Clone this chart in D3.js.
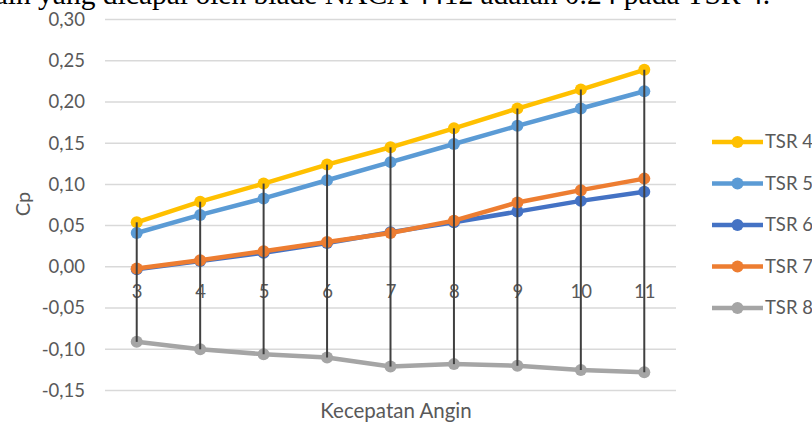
<!DOCTYPE html>
<html>
<head>
<meta charset="utf-8">
<script src="https://cdn.jsdelivr.net/npm/d3@7"></script>
<style>
  html, body { margin: 0; padding: 0; background: #fff; }
  svg { display: block; }
</style>
</head>
<body>
<svg id="chart" width="812" height="424"></svg>
<script>
// Wind speed categories (m/s)
const windSpeeds = [3, 4, 5, 6, 7, 8, 9, 10, 11];

// Power coefficient Cp per tip speed ratio
const tsr4 = [0.054, 0.079, 0.101, 0.124, 0.145, 0.168, 0.192, 0.215, 0.239];
const tsr5 = [0.041, 0.063, 0.083, 0.105, 0.127, 0.149, 0.171, 0.192, 0.213];
const tsr6 = [-0.003, 0.007, 0.017, 0.029, 0.042, 0.054, 0.067, 0.080, 0.091];
const tsr7 = [-0.002, 0.008, 0.019, 0.030, 0.041, 0.056, 0.078, 0.093, 0.107];
const tsr8 = [-0.091, -0.100, -0.106, -0.110, -0.121, -0.118, -0.120, -0.125, -0.128];

const seriesNames = ["TSR 4", "TSR 5", "TSR 6", "TSR 7", "TSR 8"];
const seriesColors = ["#FFC000", "#5B9BD5", "#4472C4", "#ED7D31", "#A5A5A5"];

const yTicks = [-0.15, -0.10, -0.05, 0.00, 0.05, 0.10, 0.15, 0.20, 0.25, 0.30];

const captionText = "ain yang dicapai oleh blade NACA 4412 adalah 0.24 pada TSR 4.";

const series = [tsr4, tsr5, tsr6, tsr7, tsr8].map((vals, i) => ({
  name: seriesNames[i],
  color: seriesColors[i],
  values: vals.map((v, j) => ({ x: windSpeeds[j], y: v }))
}));

const svg = d3.select("#chart");
const labelFont = "Lato, 'Open Sans', sans-serif";
const textGrey = "#595959";

const plot = { left: 105, right: 676, top: 19.5, bottom: 390.5 };

const x = d3.scalePoint()
  .domain(windSpeeds)
  .range([plot.left, plot.right])
  .padding(0.5);

const y = d3.scaleLinear()
  .domain([-0.15, 0.30])
  .range([plot.bottom, plot.top]);

// Paragraph line running above the chart
svg.append("text")
  .attr("x", 770)
  .attr("y", 4)
  .attr("text-anchor", "end")
  .attr("font-family", "'Liberation Serif', 'Times New Roman', serif")
  .attr("font-size", 29.5)
  .attr("fill", "#000")
  .text(captionText);

// Horizontal gridlines
svg.append("g")
  .selectAll("line")
  .data(yTicks)
  .join("line")
  .attr("x1", plot.left)
  .attr("x2", plot.right)
  .attr("y1", d => y(d))
  .attr("y2", d => y(d))
  .attr("stroke", "#d9d9d9")
  .attr("stroke-width", 1.5);

// Y axis tick labels (comma decimal)
const fmt = d => d3.format(".2f")(d).replace(".", ",").replace("−", "-");
const yAxis = d3.axisLeft(y).tickValues(yTicks).tickFormat(fmt).tickSize(0).tickPadding(0);
const yAxisG = svg.append("g")
  .attr("transform", `translate(${plot.left - 20},0)`)
  .call(yAxis);
yAxisG.select(".domain").remove();
yAxisG.selectAll("text")
  .attr("font-family", labelFont)
  .attr("font-size", 18.5)
  .attr("fill", textGrey);

// Category labels sit just under the zero line
const xAxis = d3.axisBottom(x).tickSize(0).tickPadding(0);
const xAxisG = svg.append("g")
  .attr("transform", `translate(0,${y(0) + 18})`)
  .call(xAxis);
xAxisG.select(".domain").remove();
xAxisG.selectAll("text")
  .attr("font-family", labelFont)
  .attr("font-size", 18.5)
  .attr("fill", textGrey);

// Series lines and markers
const line = d3.line().x(d => x(d.x)).y(d => y(d.y));
const sg = svg.append("g")
  .selectAll("g")
  .data(series)
  .join("g");
sg.append("path")
  .attr("d", d => line(d.values))
  .attr("fill", "none")
  .attr("stroke", d => d.color)
  .attr("stroke-width", 4.5)
  .attr("stroke-linejoin", "round");
sg.selectAll("circle")
  .data(d => d.values.map(v => ({ ...v, color: d.color })))
  .join("circle")
  .attr("cx", d => x(d.x))
  .attr("cy", d => y(d.y))
  .attr("r", 6)
  .attr("fill", d => d.color);

// High-low lines joining the highest and lowest value at each speed
svg.append("g")
  .selectAll("line")
  .data(windSpeeds.map((w, j) => {
    const vals = series.map(s => s.values[j].y);
    return { x: w, hi: d3.max(vals), lo: d3.min(vals) };
  }))
  .join("line")
  .attr("x1", d => x(d.x))
  .attr("x2", d => x(d.x))
  .attr("y1", d => y(d.hi))
  .attr("y2", d => y(d.lo))
  .attr("stroke", "#404040")
  .attr("stroke-width", 2);

// Axis titles
svg.append("text")
  .attr("x", 396)
  .attr("y", 418)
  .attr("text-anchor", "middle")
  .attr("font-family", labelFont)
  .attr("font-size", 20.5)
  .attr("fill", textGrey)
  .text("Kecepatan Angin");

svg.append("text")
  .attr("transform", "translate(30,204) rotate(-90)")
  .attr("text-anchor", "middle")
  .attr("font-family", labelFont)
  .attr("font-size", 20)
  .attr("fill", textGrey)
  .text("Cp");

// Legend
const legend = svg.append("g")
  .selectAll("g")
  .data(series)
  .join("g")
  .attr("transform", (d, i) => `translate(712,${142 + i * 41.5})`);
legend.append("line")
  .attr("x1", 0).attr("x2", 51)
  .attr("stroke", d => d.color)
  .attr("stroke-width", 4.5);
legend.append("circle")
  .attr("cx", 25.5)
  .attr("r", 6)
  .attr("fill", d => d.color);
legend.append("text")
  .attr("x", 53)
  .attr("dy", "0.35em")
  .attr("font-family", labelFont)
  .attr("font-size", 18.5)
  .attr("fill", textGrey)
  .text(d => d.name);
</script>
</body>
</html>
